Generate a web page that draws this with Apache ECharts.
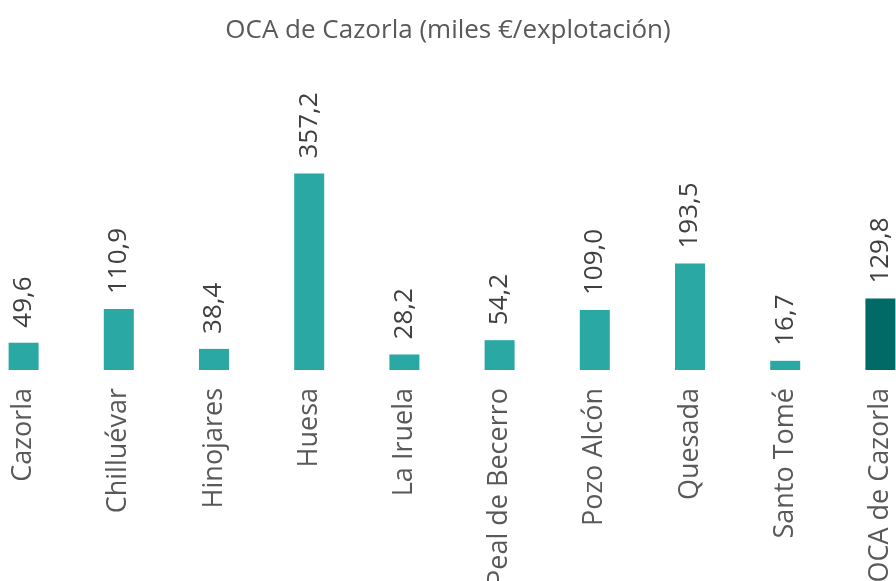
<!DOCTYPE html>
<html>
<head>
<meta charset="utf-8">
<script src="https://cdn.jsdelivr.net/npm/echarts@6/dist/echarts.min.js"></script>
<style>
  html, body { margin: 0; padding: 0; background: #fff; }
  #chart { width: 896px; height: 581px; }
</style>
</head>
<body>
<div id="chart"></div>
<script>
const categories = ["Cazorla", "Chilluévar", "Hinojares", "Huesa", "La Iruela",
  "Peal de Becerro", "Pozo Alcón", "Quesada", "Santo Tomé", "OCA de Cazorla"];
const values = [49.6, 110.9, 38.4, 357.2, 28.2, 54.2, 109.0, 193.5, 16.7, 129.8];
const totalName = "OCA de Cazorla";

const myChart = echarts.init(document.getElementById("chart"));
const fmt = (v) => v.toFixed(1).replace(".", ",");

const option = {
  animation: false,
  title: {
    text: "OCA de Cazorla (miles €/explotación)",
    left: "center",
    top: 13,
    textStyle: { fontFamily: "Open Sans", fontWeight: "normal", fontSize: 26, color: "#595959" },
  },
  grid: {
    left: -24, width: 952, top: 150, bottom: 211,
    containLabel: false, outerBoundsMode: "none",
  },
  xAxis: {
    type: "category",
    data: categories,
    axisLine: { show: false },
    axisTick: { show: false },
    axisLabel: {
      interval: 0,
      rotate: 90,
      margin: 18,
      fontFamily: "Open Sans",
      fontSize: 27,
      color: "#595959",
    },
  },
  yAxis: {
    type: "value",
    min: 0,
    max: 400,
    show: false,
    splitLine: { show: false },
  },
  series: [
    {
      type: "bar",
      barWidth: 30,
      data: values.map((v, i) => ({
        value: v,
        itemStyle: { color: categories[i] === totalName ? "#006B66" : "#2AA8A4" },
      })),
      label: {
        show: true,
        position: "top",
        rotate: 90,
        align: "left",
        verticalAlign: "middle",
        distance: 15,
        formatter: (p) => fmt(p.value),
        fontFamily: "Open Sans",
        fontSize: 26,
        color: "#404040",
      },
    },
  ],
};

myChart.setOption(option);
window.addEventListener("resize", () => myChart.resize());
</script>
</body>
</html>
